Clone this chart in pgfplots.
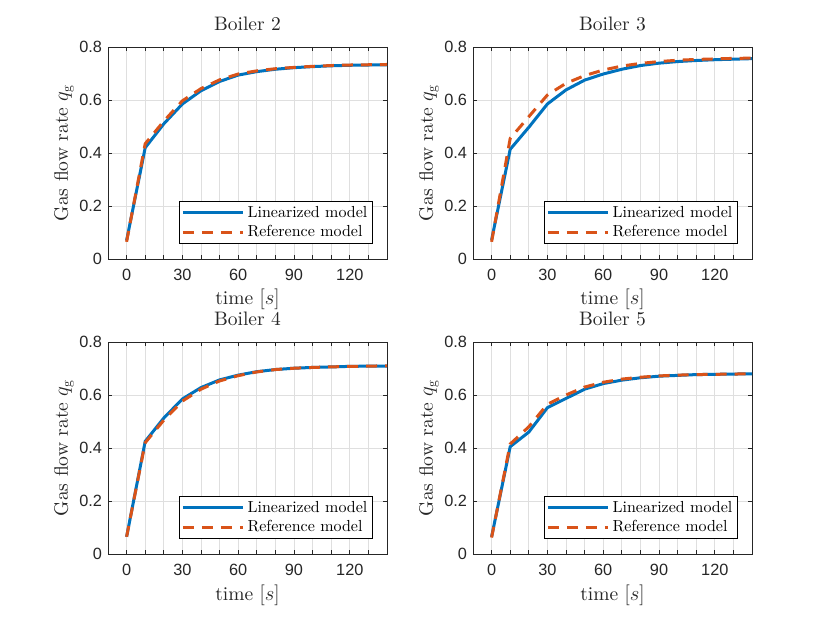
\documentclass[border=0pt]{standalone}
\usepackage{fontspec}
\setmainfont{lmroman10-regular}[Extension=.otf, BoldFont=lmroman10-bold, ItalicFont=lmroman10-italic]
\usepackage{pgfplots}
\pgfplotsset{compat=1.18}
\newfontfamily\tickfont{Liberation Sans}
\definecolor{mblue}{rgb}{0,0.4470,0.7410}
\definecolor{morange}{rgb}{0.8500,0.3250,0.0980}
\definecolor{axcol}{rgb}{0.15,0.15,0.15}
\definecolor{gridcol}{rgb}{0.875,0.875,0.875}
\pgfplotsset{
  myax/.style={
    scale only axis, width=279pt, height=212pt,
    xmin=-10, xmax=140, ymin=0, ymax=0.8,
    xtick={0,10,...,140},
    xticklabels={0,,,30,,,60,,,90,,,120,,},
    ytick={0,0.2,0.4,0.6,0.8},
    yticklabels={0,0.2,0.4,0.6,0.8},
    grid=major,
    major grid style={gridcol, line width=0.8pt},
    axis line style={axcol, line width=0.8pt},
    every tick/.style={axcol, line width=0.8pt},
    major tick length=4pt,
    tick align=inside,
    /pgf/number format/assume math mode=true,
    tick label style={font=\tickfont\fontsize{16.3}{19}\selectfont, text=axcol},
    xticklabel style={yshift=-7pt},
    yticklabel style={xshift=-2.5pt},
    title style={at={(axis description cs:0.5,1.0472)}, anchor=base, font=\fontsize{19.5}{23}\selectfont, text=axcol},
    xlabel={time $[s]$},
    ylabel={Gas flow rate $q_{\mathrm{g}}$},
    xlabel style={at={(axis description cs:0.5,-0.217)}, anchor=base, font=\fontsize{19.5}{23}\selectfont, text=axcol},
    ylabel style={at={(axis description cs:-0.1434,0.5)}, anchor=base, font=\fontsize{19.5}{23}\selectfont, text=axcol},
    legend style={at={(1,0)}, anchor=south east, xshift=-14pt, yshift=15pt,
      font=\fontsize{16}{18}\selectfont, draw=black, line width=0.8pt, fill=white,
      inner xsep=2pt, inner ysep=2pt, nodes={inner sep=3.2pt}, text=black},
    legend cell align=left,
    legend image code/.code={\draw[#1] (0pt,0pt) -- (60pt,0pt);},
    lin/.style={mblue, line width=3pt, solid},
    ref/.style={morange, line width=3pt, dash pattern=on 11pt off 8pt},
  }
}
\begin{document}
\begin{tikzpicture}[x=1pt,y=1pt]
\path[use as bounding box] (0,0) rectangle (830,623);
% Boiler 2
\begin{axis}[myax, at={(108pt,364pt)}, anchor=south west, title={Boiler 2}]
\addplot[lin] coordinates {(0,0.07) (10,0.42) (20,0.51) (30,0.585) (40,0.635) (50,0.67) (60,0.694) (70,0.707) (80,0.716) (90,0.722) (100,0.726) (110,0.729) (120,0.731) (130,0.732) (140,0.733)};
\addplot[ref] coordinates {(0,0.065) (10,0.435) (20,0.52) (30,0.597) (40,0.643) (50,0.676) (60,0.698) (70,0.71) (80,0.718) (90,0.723) (100,0.727) (110,0.73) (120,0.732) (130,0.733) (140,0.734)};
\legend{Linearized model, Reference model}
\end{axis}
% Boiler 3
\begin{axis}[myax, at={(473pt,364pt)}, anchor=south west, title={Boiler 3}]
\addplot[lin] coordinates {(0,0.072) (10,0.414) (20,0.497) (30,0.585) (40,0.638) (50,0.675) (60,0.698) (70,0.716) (80,0.73) (90,0.739) (100,0.745) (110,0.749) (120,0.752) (130,0.754) (140,0.756)};
\addplot[ref] coordinates {(0,0.065) (10,0.455) (20,0.537) (30,0.619) (40,0.663) (50,0.692) (60,0.713) (70,0.728) (80,0.738) (90,0.745) (100,0.75) (110,0.753) (120,0.755) (130,0.757) (140,0.758)};
\legend{Linearized model, Reference model}
\end{axis}
% Boiler 4
\begin{axis}[myax, at={(108pt,69pt)}, anchor=south west, title={Boiler 4}]
\addplot[lin] coordinates {(0,0.065) (10,0.425) (20,0.513) (30,0.585) (40,0.628) (50,0.657) (60,0.675) (70,0.688) (80,0.696) (90,0.701) (100,0.704) (110,0.706) (120,0.708) (130,0.709) (140,0.709)};
\addplot[ref] coordinates {(0,0.065) (10,0.42) (20,0.505) (30,0.577) (40,0.622) (50,0.653) (60,0.673) (70,0.687) (80,0.696) (90,0.701) (100,0.704) (110,0.706) (120,0.708) (130,0.709) (140,0.71)};
\legend{Linearized model, Reference model}
\end{axis}
% Boiler 5
\begin{axis}[myax, at={(473pt,69pt)}, anchor=south west, title={Boiler 5}]
\addplot[lin] coordinates {(0,0.065) (10,0.405) (20,0.46) (30,0.552) (40,0.587) (50,0.622) (60,0.643) (70,0.656) (80,0.665) (90,0.671) (100,0.674) (110,0.677) (120,0.678) (130,0.679) (140,0.68)};
\addplot[ref] coordinates {(0,0.062) (10,0.415) (20,0.48) (30,0.565) (40,0.6) (50,0.63) (60,0.648) (70,0.66) (80,0.667) (90,0.672) (100,0.675) (110,0.677) (120,0.678) (130,0.679) (140,0.68)};
\legend{Linearized model, Reference model}
\end{axis}
\end{tikzpicture}
\end{document}
